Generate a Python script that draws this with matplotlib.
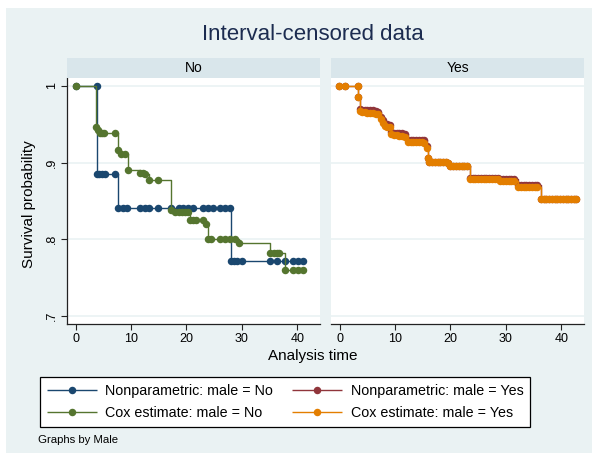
import matplotlib
matplotlib.use("Agg")
import matplotlib.pyplot as plt
from matplotlib.patches import Rectangle

plt.rcParams['font.family'] = ['Liberation Sans', 'DejaVu Sans']

W, H = 598, 459

# ---- data -------------------------------------------------------------
groups = ["No", "Yes"]

# male = No : nonparametric (interval-censored) estimate
np_no_t = [0, 3.9, 3.9, 4.3, 4.8, 5.3, 7.1, 7.7, 8.5, 9.2, 11.6, 12.5, 13.3,
           14.9, 17.2, 18.6, 19.4, 20.2, 21.2, 23.0, 23.9, 24.8, 26.0, 26.9,
           27.9, 28.1, 28.6, 29.1, 30.0, 35.1, 36.3, 37.8, 39.3, 40.2, 41.1]
np_no_s = [1.0, 1.0, .885, .885, .885, .885, .885, .841, .841, .841, .841,
           .841, .841, .841, .841, .841, .841, .841, .841, .841, .841, .841,
           .841, .841, .841, .771, .771, .771, .771, .771, .771, .771, .771,
           .771, .771]

# male = No : Cox estimate
cox_no_t = [0, 3.7, 4.0, 4.4, 4.8, 5.2, 7.1, 7.6, 8.1, 8.9, 9.4, 11.6, 12.2,
            12.5, 13.3, 14.9, 17.2, 17.9, 18.6, 19.2, 19.8, 20.3, 20.6, 21.2,
            21.8, 23.0, 23.6, 23.9, 24.5, 26.0, 26.9, 27.9, 28.8, 29.4, 35.1,
            35.8, 36.3, 36.7, 37.7, 39.3, 40.2, 41.1]
cox_no_s = [1.0, .946, .942, .939, .939, .939, .939, .917, .911, .911, .8905,
            .887, .887, .885, .8775, .8775, .838, .836, .836, .836, .836, .836,
            .825, .825, .825, .825, .820, .800, .800, .800, .800, .800, .800,
            .795, .782, .782, .782, .782, .760, .760, .760, .760]

# male = Yes : nonparametric estimate
np_yes_t = [-0.2, 0.9, 3.3, 3.3, 3.6, 4.0, 4.5, 5.0, 5.5, 6.0, 6.5, 7.0, 7.4,
            7.8, 8.2, 8.6, 9.0, 9.3, 9.8, 10.3, 10.8, 11.3, 11.8, 12.3, 12.8,
            13.3, 13.8, 14.3, 14.8, 15.3, 15.7, 15.9, 16.2, 16.7, 17.2, 17.7,
            18.2, 18.7, 19.2, 19.6, 20.0, 20.5, 21.0, 21.5, 22.0, 22.5, 23.0,
            23.5, 24.0, 24.5, 25.0, 25.5, 26.0, 26.5, 27.0, 27.5, 28.0, 28.5,
            29.0, 29.5, 30.0, 30.5, 31.0, 31.5, 32.2, 32.7, 33.2, 33.7, 34.2,
            34.7, 35.2, 35.7, 36.3, 36.8, 37.3, 37.8, 38.3, 38.8, 39.3, 39.8,
            40.3, 40.8, 41.3, 41.8, 42.3, 42.6]
np_yes_s = [1.0, 1.0, 1.0, .985, .970, .969, .969, .968, .968, .968, .967,
            .966, .960, .955, .951, .950, .949, .940, .939, .939, .938, .938,
            .937, .930, .930, .930, .930, .930, .929, .929, .921, .906, .901,
            .901, .901, .901, .901, .901, .901, .900, .896, .896, .896, .896,
            .896, .896, .895, .880, .880, .880, .880, .880, .880, .880, .880,
            .880, .880, .880, .879, .879, .879, .879, .879, .879, .871, .871,
            .871, .871, .871, .871, .871, .871, .853, .853, .853, .853, .853,
            .853, .853, .853, .853, .853, .853, .853, .853, .853]

# male = Yes : Cox estimate
cox_yes_t = np_yes_t
cox_yes_s = [1.0, 1.0, 1.0, .985, .967, .966, .966, .965, .965, .965, .964,
             .963, .957, .952, .948, .947, .946, .937, .936, .936, .935, .935,
             .934, .927, .927, .927, .927, .927, .927, .926, .919, .906, .901,
             .901, .901, .901, .901, .901, .901, .900, .896, .896, .896, .896,
             .896, .896, .895, .879, .879, .879, .879, .879, .879, .879, .879,
             .879, .879, .879, .876, .876, .876, .876, .876, .876, .868, .868,
             .868, .868, .868, .868, .868, .868, .853, .853, .853, .853, .853,
             .853, .853, .853, .853, .853, .853, .853, .853, .853]

x_ticks = [0, 10, 20, 30, 40]
y_ticks = [0.7, 0.8, 0.9, 1.0]
y_ticklabels = [".7", ".8", ".9", "1"]

# ---- style ------------------------------------------------------------
NAVY = "#1a476f"
MAROON = "#90353b"
GREEN = "#55752f"
ORANGE = "#e37e00"
BG = "#eaf2f3"
STRIP = "#d9e6eb"
GRID = "#eaf2f3"

series = {
    "No": [(np_no_t, np_no_s, NAVY, "Nonparametric: male = No"),
           (cox_no_t, cox_no_s, GREEN, "Cox estimate: male = No")],
    "Yes": [(np_yes_t, np_yes_s, MAROON, "Nonparametric: male = Yes"),
            (cox_yes_t, cox_yes_s, ORANGE, "Cox estimate: male = Yes")],
}

fig = plt.figure(figsize=(W / 100, H / 100), dpi=100, facecolor="white")

# outer graph region
fig.patches.append(Rectangle((6 / W, 1 - 453 / H), 586 / W, 445 / H,
                             transform=fig.transFigure, facecolor=BG,
                             edgecolor="none", zorder=-10))


def fx(px):
    return px / W


def fy(py):
    return 1 - py / H


panel_left = [67, 331]
panel_w = 253
top, bottom = 78, 324
handles = {}

for i, g in enumerate(groups):
    x0 = panel_left[i]
    ax = fig.add_axes([fx(x0), fy(bottom), panel_w / W, (bottom - top) / H])
    ax.set_facecolor("white")
    for t, s, c, lab in series[g]:
        ln, = ax.plot(t, s, drawstyle="steps-post", color=c, lw=1.0,
                      marker="o", markersize=5.4, markeredgewidth=0,
                      label=lab, solid_capstyle="butt")
        handles[lab] = ln
    ax.set_xlim(-1.56, 44.1)
    ax.set_ylim(0.6893, 1.0104)
    ax.set_yticks(y_ticks)
    ax.set_xticks(x_ticks)
    for y in y_ticks:
        ax.axhline(y, color=GRID, lw=1.2, zorder=0)
    for sp in ["top", "right"]:
        ax.spines[sp].set_visible(False)
    ax.spines["bottom"].set_color("#222222")
    ax.spines["bottom"].set_linewidth(0.9)
    ax.tick_params(axis="x", direction="out", length=4.3, width=0.8,
                   labelsize=9, pad=2, color="#222222")
    if i == 0:
        ax.spines["left"].set_color("#222222")
        ax.spines["left"].set_linewidth(0.9)
        ax.set_yticklabels(y_ticklabels, rotation=90, va="center")
        ax.tick_params(axis="y", direction="out", length=4.3, width=0.8,
                       labelsize=9, pad=2, color="#222222")
    else:
        ax.spines["left"].set_visible(False)
        ax.tick_params(axis="y", left=False, labelleft=False)

    # panel strip
    sx = fig.add_axes([fx(x0), fy(top), panel_w / W, 20 / H])
    sx.set_facecolor(STRIP)
    sx.set_xticks([])
    sx.set_yticks([])
    for sp in sx.spines.values():
        sp.set_visible(False)
    sx.text(0.5, 0.5, g, ha="center", va="center", fontsize=10,
            transform=sx.transAxes, color="black")

fig.text(fx(313), fy(35), "Interval-censored data", ha="center",
         va="center", fontsize=16, color="#1c2c50")
fig.text(fx(313), fy(356), "Analysis time", ha="center", va="center",
         fontsize=11)
fig.text(fx(29), fy(204), "Survival probability", ha="center", va="center",
         fontsize=11, rotation=90)
fig.text(fx(38), fy(440), "Graphs by Male", ha="left", va="center",
         fontsize=8.2)

order = ["Nonparametric: male = No", "Cox estimate: male = No",
         "Nonparametric: male = Yes", "Cox estimate: male = Yes"]
leg = fig.legend([handles[k] for k in order], order, ncol=2,
                 loc="center", bbox_to_anchor=(fx(285), fy(402)),
                 fontsize=10.3, frameon=True, fancybox=False,
                 edgecolor="black", facecolor="white", framealpha=1,
                 handlelength=3.5, handletextpad=0.6, columnspacing=1.3,
                 labelspacing=0.5, borderpad=0.5, borderaxespad=0)
leg.get_frame().set_linewidth(0.9)

fig.savefig("out.png", dpi=100, facecolor="white")
